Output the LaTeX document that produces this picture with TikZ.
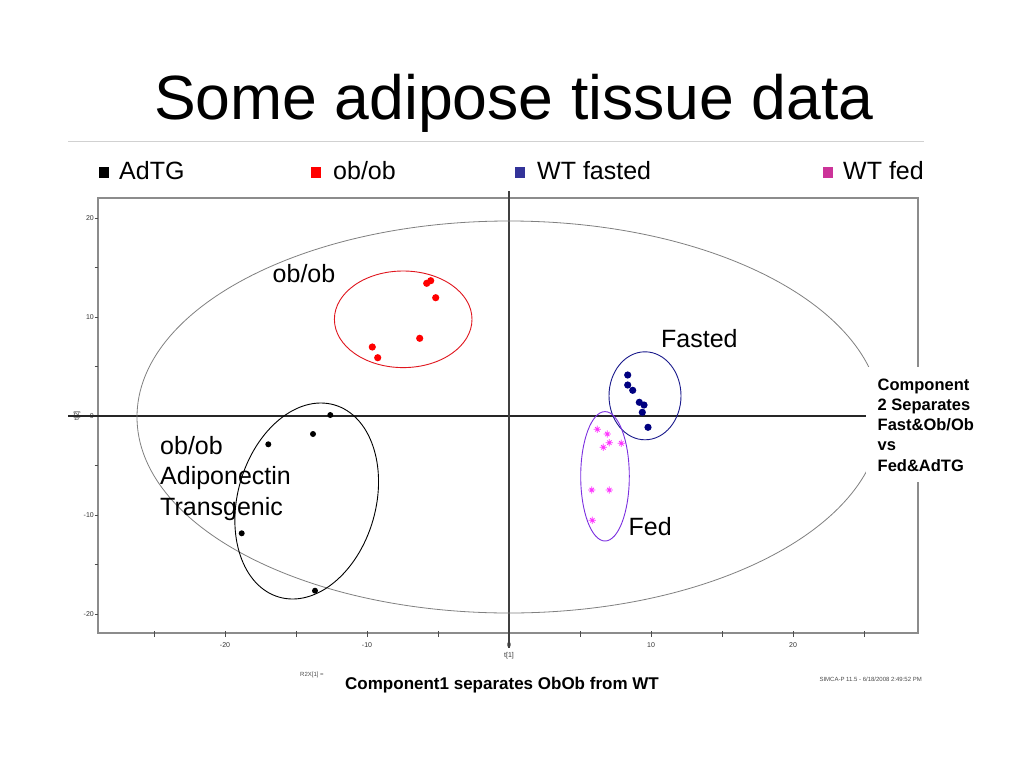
\documentclass[tikz,border=0pt]{standalone}
\usepackage{fontspec}
\setmainfont{Liberation Sans}
\definecolor{legblue}{HTML}{333399}
\definecolor{legmag}{HTML}{CC3399}
\definecolor{ptnavy}{HTML}{000080}
\definecolor{ptmag}{HTML}{FF33FF}
\definecolor{ellblue}{HTML}{1A1A8C}
\definecolor{ellviolet}{HTML}{7B2FE0}
\definecolor{ellred}{HTML}{E0161E}
\definecolor{framegray}{HTML}{8C8C8C}
\begin{document}
\begin{tikzpicture}[x=1pt,y=-1pt,
  legtext/.style={anchor=base west,inner sep=0pt,font=\fontsize{25}{30}\selectfont},
  plotlabel/.style={anchor=base west,inner sep=0pt,font=\fontsize{25}{30}\selectfont},
  ticklab/.style={inner sep=0pt,font=\fontsize{7}{8}\selectfont,text=black!80},
  boldnote/.style={anchor=base west,inner sep=0pt,font=\bfseries\fontsize{16.5}{20}\selectfont},
  tinytext/.style={inner sep=0pt,font=\fontsize{6}{7}\selectfont,text=black!70},
  legsq/.style={draw=none},
  dotred/.style={fill=red},
  dotnavy/.style={fill=ptnavy},
  dotblack/.style={fill=black},
  fedmark/.pic={\draw[ptmag,line width=0.8pt] (-3.6,0)--(3.6,0) (0,-3.6)--(0,3.6) (-2.2,-2.2)--(2.2,2.2) (-2.2,2.2)--(2.2,-2.2);},
]
\useasboundingbox (0,0) rectangle (1024,768);
\fill[white] (0,0) rectangle (1024,768);
% title
\node[anchor=base west,inner sep=0pt,font=\fontsize{62.5}{70}\selectfont] (title) at (154,119.3) {Some adipose tissue data};
\draw[black!18,line width=1pt] (68,141) -- (924,141);
% legend
\fill[black] (99,167) rectangle (108.5,178);
\node[legtext] (lg1) at (119,179) {AdTG};
\fill[red] (311,167) rectangle (321,178);
\node[legtext] (lg2) at (333,179) {ob/ob};
\fill[legblue] (515,167) rectangle (525,178);
\node[legtext] (lg3) at (537,179) {WT fasted};
\fill[legmag] (823,167) rectangle (833,178);
\node[legtext] (lg4) at (843,179) {WT fed};
% frame and ticks
\draw[framegray,line width=1.6pt] (98,198) rectangle (918,633);
\foreach \yy in {218,267.5,317,366.5,416,465.5,515,564.5,614}
  \draw[black!70,line width=0.7pt] (94.5,\yy) -- (98,\yy);
\foreach \xx in {154,225,296,367,438,509,580,651,722,793,864}
  \draw[black!70,line width=0.7pt] (\xx,631) -- (\xx,636.5);
\foreach \yy/\lab in {218/20,317/10,416/0,515/-10,614/-20}
  \node[ticklab,anchor=east] (yl\lab) at (94,\yy) {\lab};
\foreach \xx/\lab in {225/-20,367/-10,509/0,651/10,793/20}
  \node[ticklab] (xl\lab) at (\xx,645) {\lab};
\node[ticklab] (t1) at (509,656) {t[1]};
\node[ticklab,rotate=90] (t2) at (77,416) {t[2]};
% axes
\draw[black!85,line width=1.6pt] (68,416) -- (918,416);
\draw[black!75,line width=1.8pt] (509,191) -- (509,648);
% big ellipse
\draw[gray,line width=0.8pt] (509,417) ellipse [x radius=372pt,y radius=196pt];
% cluster ellipses
\draw[ellred,line width=0.9pt] (403.2,319.3) ellipse [x radius=68.8pt,y radius=48.3pt];
\draw[ellblue,line width=0.9pt] (645,395.8) ellipse [x radius=36pt,y radius=44pt];
\draw[ellviolet,line width=0.9pt] (605,476.3) ellipse [x radius=24.3pt,y radius=64.7pt];
\draw[black,line width=0.9pt,rotate around={-16:(306.7,501)}] (306.7,501) ellipse [x radius=69pt,y radius=100pt];
% points
\foreach \px/\py in {426.7/283.3,430.7/280.7,435.7/297.7,419.7/338.3,372.3/347,377.7/357.7}
  \fill[dotred] (\px,\py) circle (3.6pt);
\foreach \px/\py in {627.7/375,627.7/385,632.7/390.3,639.3/402.3,644/405,642.3/412.3,648/427.3}
  \fill[dotnavy] (\px,\py) circle (3.6pt);
\foreach \px/\py in {330.3/415,313/434,268.3/444.3,241.7/533.3,315/590.7}
  \fill[dotblack] (\px,\py) circle (3pt);
\foreach \px/\py in {597.3/429.3,607.3/434,609.3/442.7,603.3/447.3,621.3/443.3,591.7/490,609.3/490,592.3/520.3}
  \pic at (\px,\py) {fedmark};
% labels in plot
\node[plotlabel] (lobob) at (272.5,282.3) {ob/ob};
\node[plotlabel] (lfasted) at (661,347.3) {Fasted};
\node[plotlabel] (lfed) at (628.5,535) {Fed};
\node[plotlabel] (la1) at (160,454) {ob/ob};
\node[plotlabel] (la2) at (160,484.5) {Adiponectin};
\node[plotlabel] (la3) at (160,515) {Transgenic};
% right note
\fill[white] (866,367) rectangle (995,482);
\node[boldnote] (n1) at (877.5,390) {Component};
\node[boldnote] (n2) at (877.5,410.3) {2 Separates};
\node[boldnote] (n3) at (877.5,430.6) {Fast\&Ob/Ob};
\node[boldnote] (n4) at (877.5,450.9) {vs};
\node[boldnote] (n5) at (877.5,471.2) {Fed\&AdTG};
% bottom texts
\node[anchor=base west,inner sep=0pt,font=\bfseries\fontsize{17}{20}\selectfont] (comp1) at (345,689) {Component1 separates ObOb from WT};
\node[tinytext,anchor=west] (r2x) at (300,675) {R2X[1] =};
\node[tinytext,anchor=east] (simca) at (922,679) {SIMCA-P 11.5 - 6/18/2008 2:49:52 PM};
\end{tikzpicture}
\end{document}
